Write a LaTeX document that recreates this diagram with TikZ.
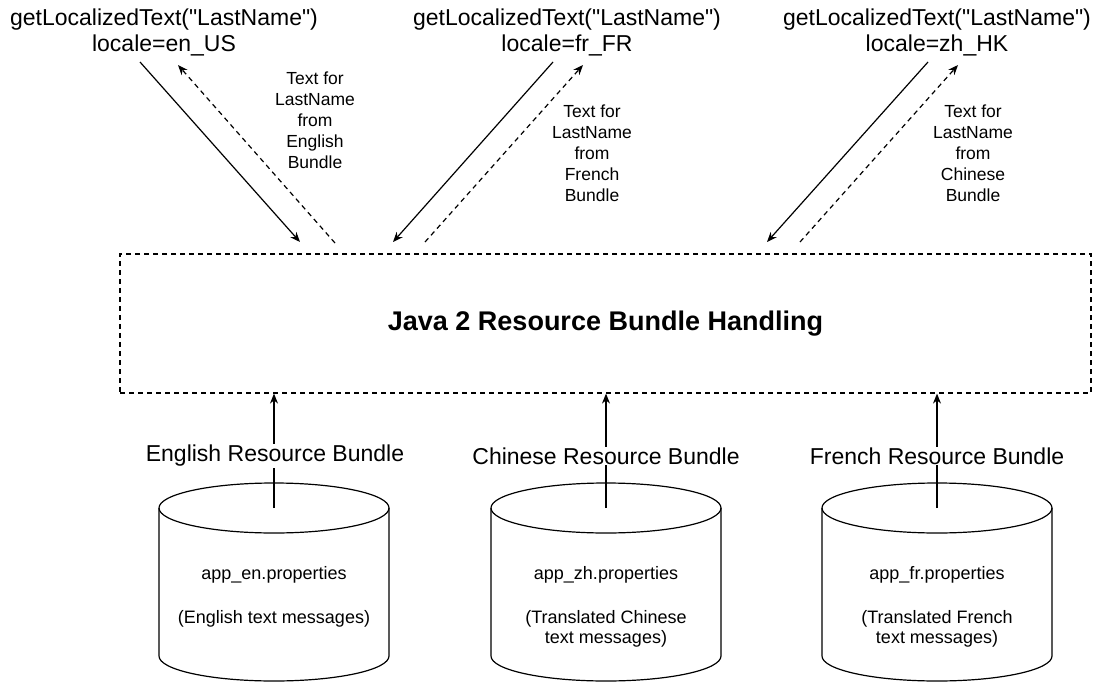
\documentclass[tikz,border=0pt]{standalone}
\usepackage{fontspec}
\setmainfont{Liberation Sans}[Ligatures=TeXOff]
\usetikzlibrary{arrows.meta}
\begin{document}
\begin{tikzpicture}[x=1pt,y=-1pt, line width=1.2pt,
  tip/.style={-{Stealth[length=10pt,width=8pt]}},
  dashline/.style={dash pattern=on 5pt off 4pt},
  call/.style={font=\fontsize{23}{26}\selectfont, align=center, inner sep=0pt},
  ret/.style={font=\fontsize{17.5}{21}\selectfont, align=center, inner sep=0pt},
  bundle/.style={font=\fontsize{23}{27}\selectfont, fill=white, inner sep=1pt},
  cyltext/.style={font=\fontsize{18}{20}\selectfont, align=center, inner sep=0pt, anchor=north}]
\useasboundingbox (0,0) rectangle (1100,682);

% top call labels
\node[call] (cen) at (164,32) {getLocalizedText("LastName")\\locale=en\_US};
\node[call] (cfr) at (567,32) {getLocalizedText("LastName")\\locale=fr\_FR};
\node[call] (czh) at (937,32) {getLocalizedText("LastName")\\locale=zh\_HK};

% return labels
\node[ret] (ren) at (315,120) {Text for\\LastName\\from\\English\\Bundle};
\node[ret] (rfr) at (592,153) {Text for\\LastName\\from\\French\\Bundle};
\node[ret] (rzh) at (973,153) {Text for\\LastName\\from\\Chinese\\Bundle};

% central box
\node[draw, dashline, minimum width=971pt, minimum height=139pt, inner sep=0pt,
      font=\bfseries\fontsize{27}{30}\selectfont] (rb) at (605.5,323.5) {Java 2 Resource Bundle Handling};

% request / response arrows
\coordinate (enA) at (140,62);  \coordinate (enB) at (300,242);
\coordinate (enC) at (335,243); \coordinate (enD) at (178,65);
\coordinate (frA) at (553,62);  \coordinate (frB) at (393,242);
\coordinate (frC) at (425,242); \coordinate (frD) at (583,65);
\coordinate (zhA) at (928,62);  \coordinate (zhB) at (767,242);
\coordinate (zhC) at (800,242); \coordinate (zhD) at (958,65);
\draw[tip] (enA) -- (enB);
\draw[tip,dashline] (enC) -- (enD);
\draw[tip] (frA) -- (frB);
\draw[tip,dashline] (frC) -- (frD);
\draw[tip] (zhA) -- (zhB);
\draw[tip,dashline] (zhC) -- (zhD);

% cylinders
\foreach \cx in {274,606,937} {
  \draw (\cx-115,508) -- (\cx-115,656)
        arc[start angle=180, end angle=360, x radius=115pt, y radius=25pt]
        -- (\cx+115,508);
  \draw (\cx,508) ellipse [x radius=115pt, y radius=25pt];
}
\coordinate (entop) at (274,508);
\coordinate (zhtop) at (606,508);
\coordinate (frtop) at (937,508);
\draw[tip] (entop) -- (entop |- rb.south);
\draw[tip] (zhtop) -- (zhtop |- rb.south);
\draw[tip] (frtop) -- (frtop |- rb.south);

\node[bundle] (ben) at (275,456) {English Resource Bundle};
\node[bundle] (bzh) at (606,456) {Chinese Resource Bundle};
\node[bundle] (bfr) at (937,456) {French Resource Bundle};

\node[cyltext] (ten) at (274,566) {app\_en.properties\\[24pt](English text messages)};
\node[cyltext] (tzh) at (606,566) {app\_zh.properties\\[24pt](Translated Chinese\\text messages)};
\node[cyltext] (tfr) at (937,566) {app\_fr.properties\\[24pt](Translated French\\text messages)};
\end{tikzpicture}
\end{document}
